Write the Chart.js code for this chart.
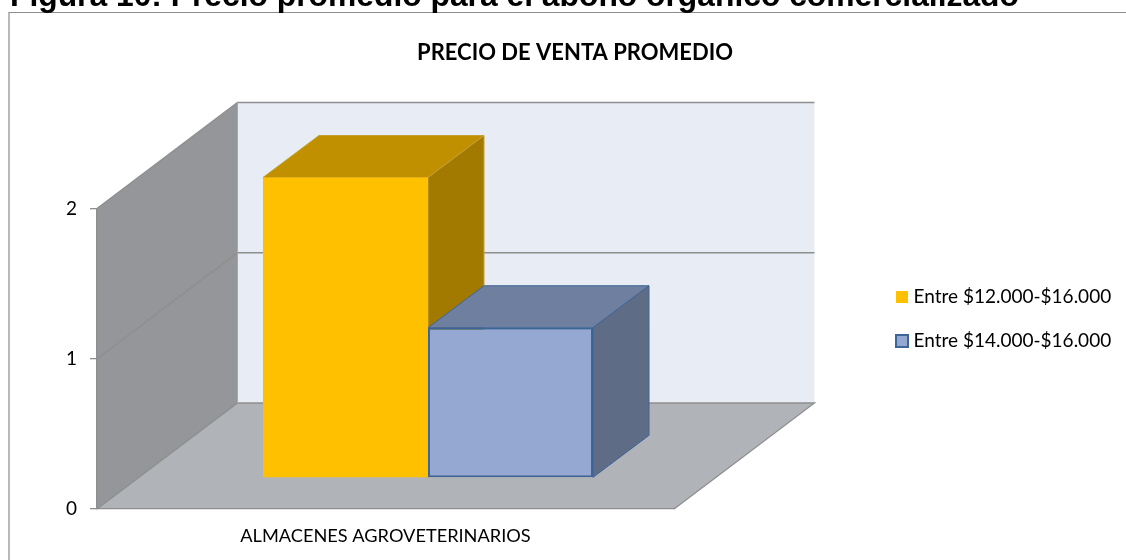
<!DOCTYPE html>
<html lang="es"><head><meta charset="utf-8">
<style>
html,body{margin:0;padding:0;background:#fff;width:1126px;height:560px;overflow:hidden}
#wrap{position:relative;width:1126px;height:560px;overflow:hidden}
#cap{position:absolute;left:10px;top:-23.5px;font:bold 31.8px "Liberation Sans",Arial,sans-serif;color:#000;white-space:nowrap;line-height:36px;z-index:2}
canvas{position:absolute;left:0;top:0}
</style>
<script src="https://cdn.jsdelivr.net/npm/chart.js@4"></script>
</head><body><div id="wrap">
<div id="cap">Figura 10: Precio promedio para el abono orgánico comercializado</div>
<canvas id="c" width="1126" height="560"></canvas></div>
<script>
const categories = ['ALMACENES AGROVETERINARIOS'];
const seriesNames = ['Entre $12.000-$16.000', 'Entre $14.000-$16.000'];
const valuesA = [2];
const valuesB = [1];
const yTicks = [0, 1, 2];
const chartTitle = 'PRECIO DE VENTA PROMEDIO';

const FONT = 'Lato, Carlito, Calibri, sans-serif';
const WALL = {dx: 140.5, dy: -106};
const BAR_SHIFT = {dx: 42.5, dy: -31};
const BAR_DEPTH = {dx: 56, dy: -42};
const FACES = [
  {top: '#C09000', side: '#A37A00', edge: '#C6A032'},
  {top: '#6F7FA0', side: '#5E6C86', edge: '#3E6597'}
];
const poly = (ctx, pts, fill, stroke, lw) => {
  ctx.beginPath();
  pts.forEach((p, i) => i ? ctx.lineTo(p[0], p[1]) : ctx.moveTo(p[0], p[1]));
  ctx.closePath();
  if (fill) { ctx.fillStyle = fill; ctx.fill(); }
  if (stroke) { ctx.strokeStyle = stroke; ctx.lineWidth = lw || 1; ctx.stroke(); }
};
const scene = {
  id: 'scene',
  afterLayout(chart) {
    const t = chart.titleBlock; t.left = 24; t.right = 1126;
    const l = chart.legend; const h = l.bottom - l.top;
    const pad = l.options.labels.padding;
    l.left = 900 - pad; l.right = 1126;
    l.top = 262.5; l.bottom = l.top + h;
  },
  beforeDraw(chart) {
    const ctx = chart.ctx, a = chart.chartArea, y = chart.scales.y;
    const L = a.left, R = a.right, B = a.bottom, dx = WALL.dx, dy = WALL.dy;
    ctx.save();
    // frame
    ctx.strokeStyle = '#8C8C8C'; ctx.lineWidth = 1.2;
    ctx.beginPath(); ctx.moveTo(9, 560); ctx.lineTo(9, 12.5); ctx.lineTo(1126, 12.5); ctx.stroke();
    // walls
    poly(ctx, [[L + dx, a.top + dy], [R + dx, a.top + dy], [R + dx, B + dy], [L + dx, B + dy]], '#E8ECF5');
    poly(ctx, [[L, a.top], [L + dx, a.top + dy], [L + dx, B + dy], [L, B]], '#95969A');
    poly(ctx, [[L, B], [L + dx, B + dy], [R + dx, B + dy], [R, B]], '#B0B3B7');
    // grid lines following the walls
    ctx.strokeStyle = '#8E8E8E'; ctx.lineWidth = 1.3;
    yTicks.forEach(v => {
      const p = y.getPixelForValue(v);
      ctx.beginPath(); ctx.moveTo(L, p); ctx.lineTo(L + dx, p + dy); ctx.lineTo(R + dx, p + dy);
      if (v === 0) ctx.lineTo(R, p);
      ctx.stroke();
    });
    ctx.strokeStyle = '#A6A8AC'; ctx.lineWidth = 1;
    ctx.beginPath(); ctx.moveTo(L + dx, a.top + dy); ctx.lineTo(L + dx, B + dy); ctx.stroke();
    ctx.restore();
  },
  beforeDatasetsDraw(chart) {
    const ctx = chart.ctx;
    ctx.save();
    ctx.translate(BAR_SHIFT.dx, BAR_SHIFT.dy);
    const dx = BAR_DEPTH.dx, dy = BAR_DEPTH.dy;
    chart.data.datasets.forEach((ds, i) => {
      chart.getDatasetMeta(i).data.forEach(el => {
        const {x, y, base, width} = el.getProps(['x', 'y', 'base', 'width'], true);
        const l = x - width / 2, r = x + width / 2, f = FACES[i];
        poly(ctx, [[l, y], [l + dx, y + dy], [r + dx, y + dy], [r, y]], f.top, f.edge, 1);
        poly(ctx, [[r, y], [r + dx, y + dy], [r + dx, base + dy], [r, base]], f.side, f.edge, 1);
      });
    });
  },
  afterDatasetsDraw(chart) { chart.ctx.restore(); }
};
new Chart(document.getElementById('c'), {
  type: 'bar',
  data: {
    labels: categories,
    datasets: [
      {label: seriesNames[0], data: valuesA, backgroundColor: '#FFC000', borderColor: '#FFC000', borderWidth: 0, clip: false},
      {label: seriesNames[1], data: valuesB, backgroundColor: '#95A8D2', borderColor: '#3E6597', borderWidth: 2, borderSkipped: false, clip: false}
    ]
  },
  options: {
    responsive: false, animation: false, events: [],
    categoryPercentage: 0.572, barPercentage: 1,
    layout: {padding: {top: 40, right: 452, left: 0, bottom: 0}},
    plugins: {
      tooltip: {enabled: false},
      title: {display: true, text: chartTitle, color: '#000', font: {family: FONT, size: 22, weight: 'bold'}, padding: {top: 0, bottom: 142.1}},
      legend: {position: 'chartArea', align: 'start', labels: {
        color: '#000', font: {family: FONT, size: 19}, usePointStyle: true, pointStyle: 'rect', boxWidth: 4, boxHeight: 12, padding: 25
      }}
    },
    scales: {
      x: {
        grid: {display: false},
        border: {display: true, color: '#8E8E8E', width: 1.3},
        ticks: {color: '#000', font: {family: FONT, size: 18.2}, padding: 8, maxRotation: 0},
        afterFit(s) { s.height = 51; }
      },
      y: {
        min: 0, max: 2,
        grid: {drawOnChartArea: false, color: '#8E8E8E', tickLength: 7, lineWidth: 1.3},
        border: {display: true, color: '#8E8E8E', width: 1.3},
        ticks: {color: '#000', font: {family: FONT, size: 19}, stepSize: 1, padding: 13},
        afterFit(s) { s.width = 97; }
      }
    }
  },
  plugins: [scene]
});
</script></body></html>
